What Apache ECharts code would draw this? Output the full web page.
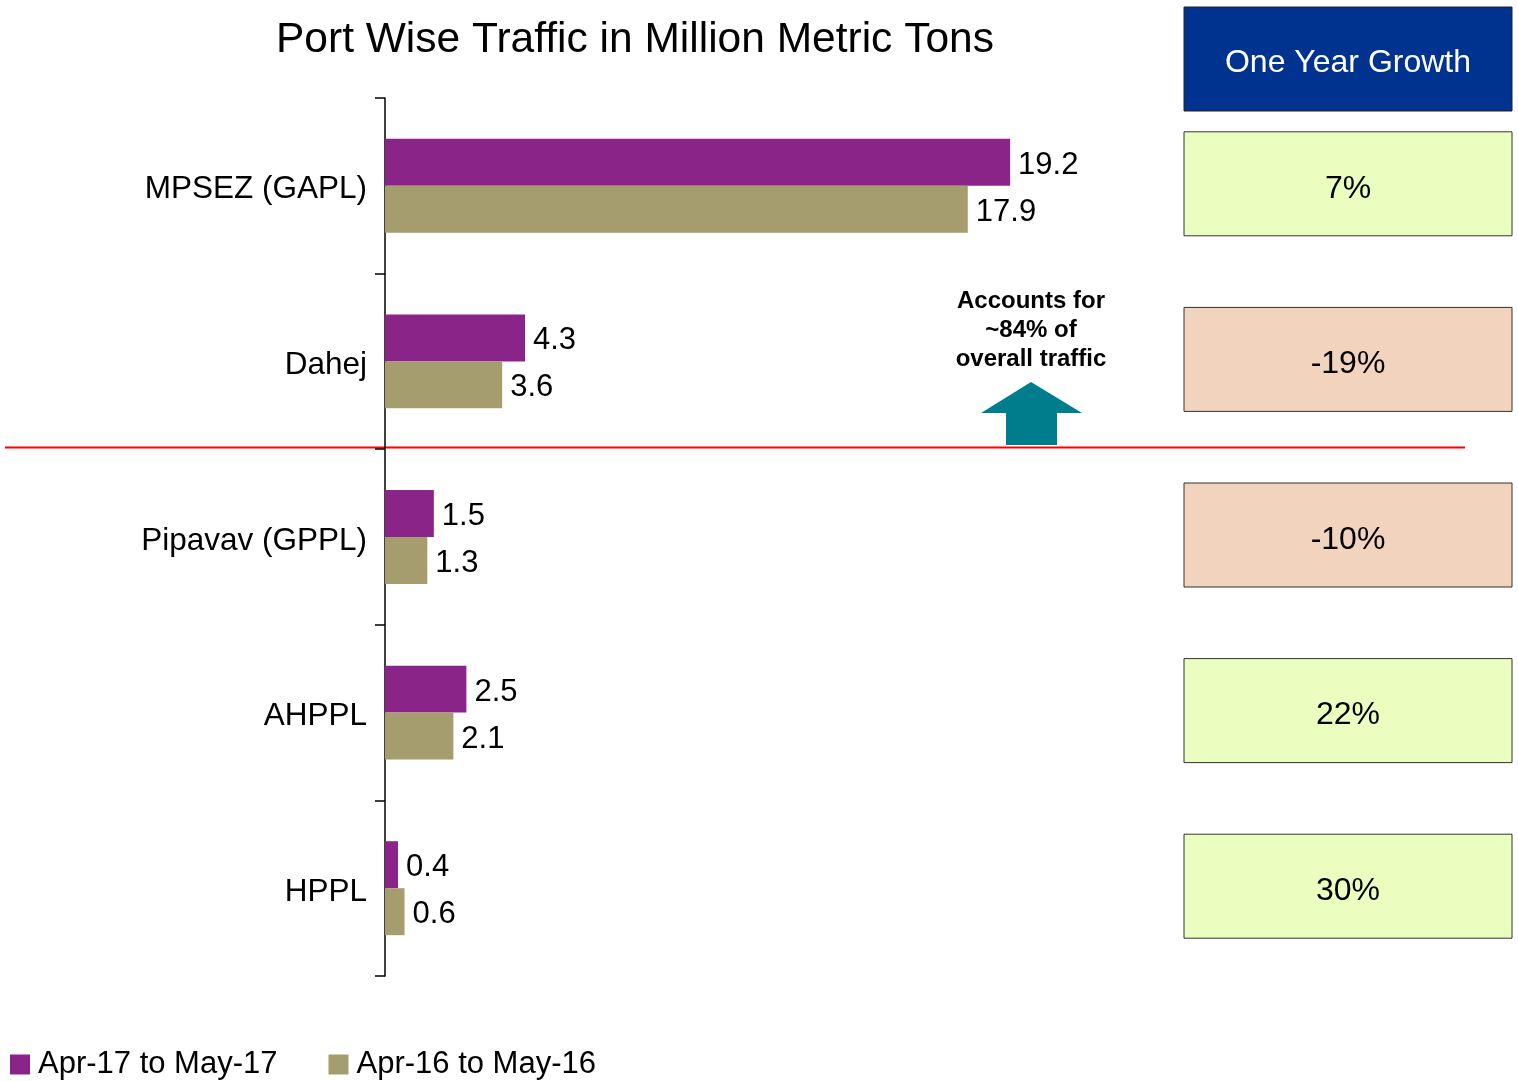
<!DOCTYPE html>
<html>
<head>
<meta charset="utf-8">
<script src="https://cdn.jsdelivr.net/npm/echarts@6/dist/echarts.min.js"></script>
<style>
html,body{margin:0;padding:0;background:#fff}
#chart{width:1518px;height:1081px}
</style>
</head>
<body>
<div id="chart"></div>
<script>
const ports = ["MPSEZ (GAPL)", "Dahej", "Pipavav (GPPL)", "AHPPL", "HPPL"]
const apr17 = [19.2, 4.3, 1.5, 2.5, 0.4]
const apr16 = [17.9, 3.6, 1.3, 2.1, 0.6]
const growthLabels = ["7%", "-19%", "-10%", "22%", "30%"]
const growthUp = [true, false, false, true, true]

const FONT = "Liberation Sans, Arial, sans-serif"
const chart = echarts.init(document.getElementById("chart"))

const option = {
  animation: false,
  textStyle: { fontFamily: FONT },
  title: {
    text: "Port Wise Traffic in Million Metric Tons",
    left: 271, top: 14,
    textStyle: { fontSize: 42.5, fontWeight: "normal", color: "#000", fontFamily: FONT }
  },
  legend: {
    left: 5, bottom: -4,
    icon: "rect", itemWidth: 20, itemHeight: 20, itemGap: 51,
    textStyle: { fontSize: 31, color: "#000", fontFamily: FONT, padding: [0, 0, 0, 3] },
    data: ["Apr-17 to May-17", "Apr-16 to May-16"]
  },
  grid: { left: 385, top: 98, width: 700, height: 878, containLabel: false },
  xAxis: { type: "value", min: 0, max: 21.5, show: false },
  yAxis: {
    type: "category", inverse: true, data: ports,
    axisLine: { lineStyle: { color: "#000", width: 1.5 } },
    axisTick: { show: true, length: 10, lineStyle: { color: "#000", width: 1.5 } },
    axisLabel: {
      margin: 18,
      formatter: v => "{p|" + v + "}",
      rich: { p: { fontSize: 31.5, color: "#000", fontFamily: FONT, padding: [8, 0, 0, 0] } }
    }
  },
  series: [
    {
      name: "Apr-17 to May-17", type: "bar", data: apr17,
      barGap: 0, barCategoryGap: "46.5%",
      itemStyle: { color: "#8B2489" },
      label: { show: true, position: "right", distance: 8, offset: [0, 3], fontSize: 31, color: "#000",
        formatter: p => p.value.toFixed(1) }
    },
    {
      name: "Apr-16 to May-16", type: "bar", data: apr16,
      barGap: 0, barCategoryGap: "46.5%",
      itemStyle: { color: "#A69D6E" },
      label: { show: true, position: "right", distance: 8, offset: [0, 3], fontSize: 31, color: "#000",
        formatter: p => p.value.toFixed(1) }
    }
  ]
}
chart.setOption(option)

// right-hand growth boxes aligned with category centres
const boxX = 1184, boxW = 328, boxH = 104
const graphics = [
  { type: "rect", shape: { x: boxX, y: 7, width: boxW, height: boxH },
    style: { fill: "#00338F", stroke: "#222", lineWidth: 1 } },
  { type: "text", x: boxX + boxW / 2, y: 7 + boxH / 2 + 4,
    style: { text: "One Year Growth", fill: "#fff", fontSize: 32, fontFamily: FONT, align: "center", verticalAlign: "middle" } }
]
ports.forEach((p, i) => {
  const cy = chart.convertToPixel({ yAxisIndex: 0 }, p)
  graphics.push({ type: "rect", shape: { x: boxX, y: cy - boxH / 2 - 2, width: boxW, height: boxH },
    style: { fill: growthUp[i] ? "#EAFFBF" : "#F2D3BD", stroke: "#333", lineWidth: 1 } })
  graphics.push({ type: "text", x: boxX + boxW / 2, y: cy + 3,
    style: { text: growthLabels[i], fill: "#000", fontSize: 32, fontFamily: FONT, align: "center", verticalAlign: "middle" } })
})
// divider between top two ports and the rest
const divY = chart.convertToPixel({ yAxisIndex: 0 }, ports[1]) + 86
graphics.push({ type: "line", shape: { x1: 5, y1: divY, x2: 1465, y2: divY },
  style: { stroke: "#FF0000", lineWidth: 2 } })
// arrow + annotation
graphics.push({ type: "polygon",
  shape: { points: [[1031, 382], [1082, 413], [1057, 413], [1057, 445], [1006, 445], [1006, 413], [981, 413]] },
  style: { fill: "#007D8C" } })
graphics.push({ type: "text", x: 1031, y: 287,
  style: { text: "Accounts for\n~84% of\noverall traffic", fill: "#000", fontSize: 24, fontWeight: "bold",
    fontFamily: FONT, align: "center", lineHeight: 29 } })
chart.setOption({ graphic: graphics })
</script>
</body>
</html>
